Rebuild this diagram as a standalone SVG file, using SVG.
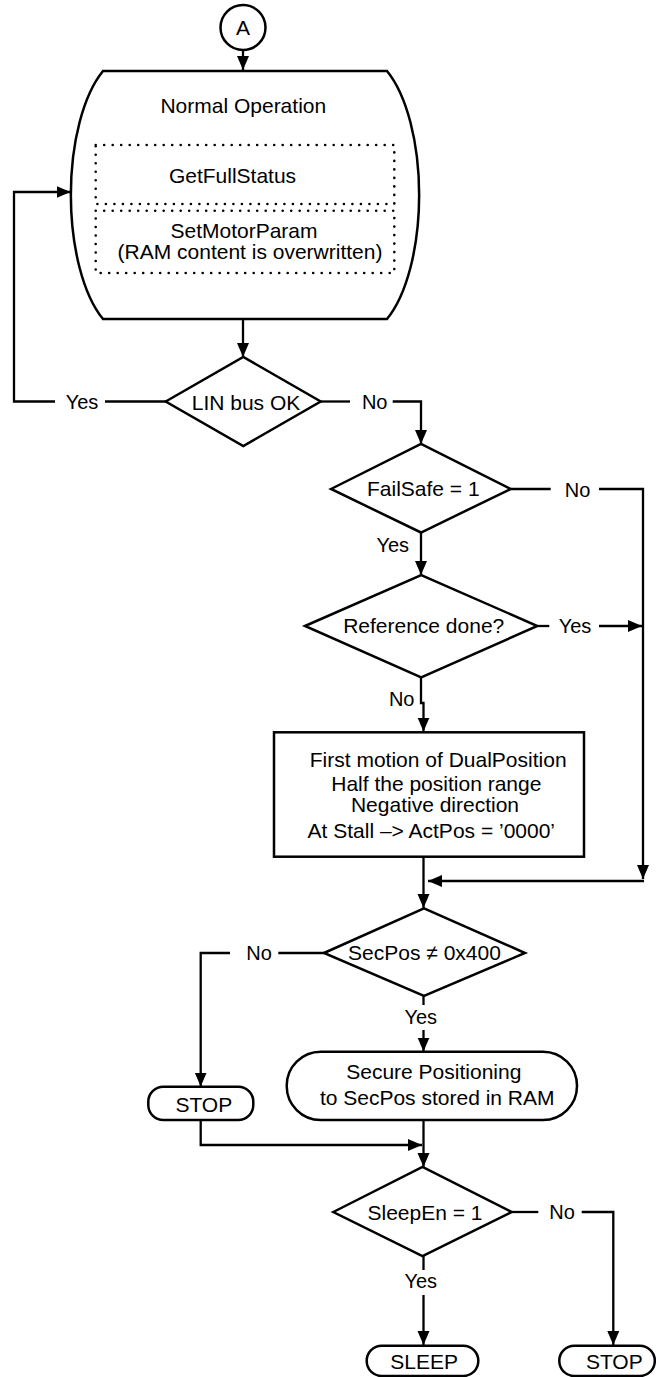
<svg xmlns="http://www.w3.org/2000/svg" width="656" height="1377" viewBox="0 0 656 1377">
<style>
.s{fill:#fff;stroke:#000;stroke-width:2.5}
.d{fill:none;stroke:#000;stroke-width:2.6;stroke-dasharray:0 8.5;stroke-linecap:round}
.c{fill:none;stroke:#000;stroke-width:2.3}
text{font-family:"Liberation Sans",Arial,Helvetica,sans-serif;font-size:21px;fill:#000;text-anchor:middle}
.l{font-size:20px}
</style>
<defs>
<marker id="ah" markerUnits="userSpaceOnUse" markerWidth="15" markerHeight="13" refX="14" refY="6.5" orient="auto">
<path d="M0,0.5 L14,6.5 L0,12.5 Z" fill="#000"/>
</marker>
</defs>
<g id="connectors">
<path class="c" d="M243,50 V70" marker-end="url(#ah)"/>
<path class="c" d="M243,319 V357" marker-end="url(#ah)"/>
<path class="c" d="M166,401.5 H105"/>
<path class="c" d="M55,401.5 H14 V192 H70.5" marker-end="url(#ah)"/>
<path class="c" d="M321,401.5 H350"/>
<path class="c" d="M392.7,401.5 H421 V444" marker-end="url(#ah)"/>
<path class="c" d="M511,489 H550.7"/>
<path class="c" d="M599,489 H643 V879" marker-end="url(#ah)"/>
<path class="c" d="M421,532.5 V575" marker-end="url(#ah)"/>
<path class="c" d="M537.3,626 H549.3"/>
<path class="c" d="M599,626 H642" marker-end="url(#ah)"/>
<path class="c" d="M421,677.3 V703 H423.5 V731.5" marker-end="url(#ah)"/>
<path class="c" d="M423.5,857 V908" marker-end="url(#ah)"/>
<path class="c" d="M644,881 H428" marker-end="url(#ah)"/>
<path class="c" d="M324,953 H278.3"/>
<path class="c" d="M230,953 H200.7 V1086.5" marker-end="url(#ah)"/>
<path class="c" d="M423.5,996 V1005"/>
<path class="c" d="M423.5,1030 V1051.5" marker-end="url(#ah)"/>
<path class="c" d="M423.5,1120 V1167" marker-end="url(#ah)"/>
<path class="c" d="M200.7,1120 V1145 H422" marker-end="url(#ah)"/>
<path class="c" d="M511.7,1212 H538.3"/>
<path class="c" d="M581.7,1212 H613.3 V1345" marker-end="url(#ah)"/>
<path class="c" d="M423.5,1256 V1270"/>
<path class="c" d="M423.5,1295 V1345" marker-end="url(#ah)"/>
<text class="l" x="82" y="409.3">Yes</text>
<text class="l" x="374.7" y="409.3">No</text>
<text class="l" x="577.5" y="496.7">No</text>
<text class="l" x="392.7" y="551.7">Yes</text>
<text class="l" x="575" y="632.5">Yes</text>
<text class="l" x="401.7" y="705.7">No</text>
<text class="l" x="259" y="960">No</text>
<text class="l" x="420.8" y="1024">Yes</text>
<text class="l" x="562" y="1219.3">No</text>
<text class="l" x="420.7" y="1288.3">Yes</text>
</g>
<g id="connA">
<circle class="s" cx="243" cy="27.5" r="22.5"/>
<text x="243" y="35">A</text>
</g>
<g id="normal">
<path class="s" d="M103,71 H387 A60,140 0 0 1 387,319 H103 A60,140 0 0 1 103,71 Z"/>
<text x="243.3" y="113.3">Normal Operation</text>
<rect class="d" x="95.7" y="145" width="298.6" height="59"/>
<text x="232.5" y="183.3">GetFullStatus</text>
<rect class="d" x="95.7" y="210.7" width="298.6" height="62.3"/>
<text x="244" y="238.3">SetMotorParam</text>
<text x="250" y="259.3">(RAM content is overwritten)</text>
</g>
<g id="linbus">
<polygon class="s" points="165.7,401.5 243.3,357 320.7,401.5 243.3,446"/>
<text x="246" y="409.5">LIN bus OK</text>
</g>
<g id="failsafe">
<polygon class="s" points="331,489 421,444 510.7,489 421,532.5"/>
<text x="423.3" y="496">FailSafe = 1</text>
</g>
<g id="refdone">
<polygon class="s" points="305,626 421.2,575 537.3,626 421.2,677.3"/>
<text x="423.7" y="632.7">Reference done?</text>
</g>
<g id="firstmotion">
<rect class="s" x="274" y="732.3" width="310" height="124.4"/>
<text x="438.2" y="766.7">First motion of DualPosition</text>
<text x="436.3" y="790.7">Half the position range</text>
<text x="435" y="812.3">Negative direction</text>
<text x="431.3" y="837.7">At Stall –&gt; ActPos = ’0000’</text>
</g>
<g id="secpos">
<polygon class="s" points="324,953 424,908.3 525,953 424,996"/>
<text x="424.5" y="960">SecPos ≠ 0x400</text>
</g>
<g id="stop1">
<rect class="s" x="148.3" y="1086.7" width="105" height="33.3" rx="15" ry="15"/>
<text x="203.8" y="1111.7">STOP</text>
</g>
<g id="secure">
<rect class="s" x="286.7" y="1051.7" width="290.3" height="68.3" rx="34" ry="34"/>
<text x="433.8" y="1079.3">Secure Positioning</text>
<text x="437.2" y="1105">to SecPos stored in RAM</text>
</g>
<g id="sleepen">
<polygon class="s" points="333.3,1212 422.5,1167 511.7,1212 422.5,1256"/>
<text x="425" y="1220">SleepEn = 1</text>
</g>
<g id="sleep">
<rect class="s" x="366.7" y="1345.7" width="111.6" height="30.3" rx="15" ry="15"/>
<text x="424.2" y="1369.3">SLEEP</text>
</g>
<g id="stop2">
<rect class="s" x="559.3" y="1345.7" width="95.5" height="30.3" rx="15" ry="15"/>
<text x="614.3" y="1369.3">STOP</text>
</g>
</svg>
